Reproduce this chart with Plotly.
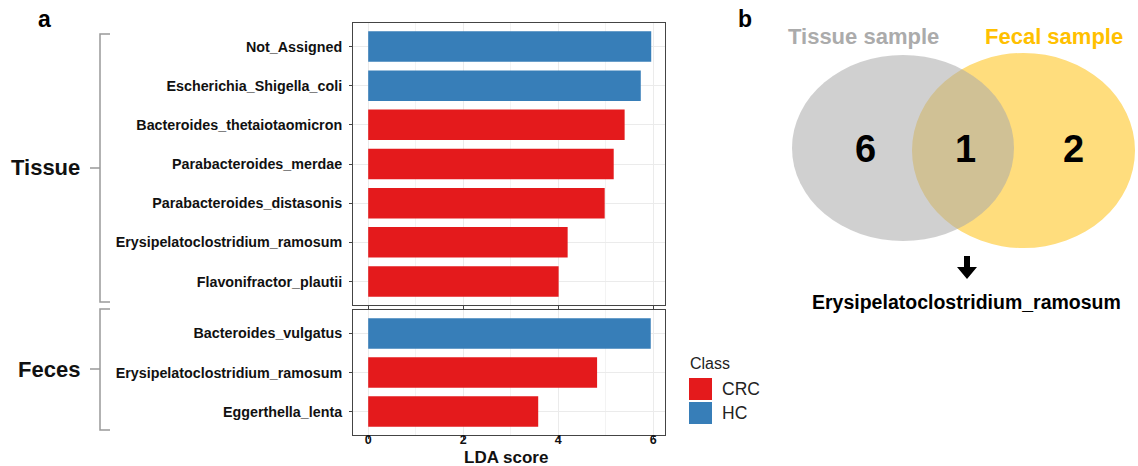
import plotly.graph_objects as go

# ---------------- data ----------------
tissue_taxa = ["Not_Assigned", "Escherichia_Shigella_coli", "Bacteroides_thetaiotaomicron",
               "Parabacteroides_merdae", "Parabacteroides_distasonis",
               "Erysipelatoclostridium_ramosum", "Flavonifractor_plautii"]
tissue_lda = [5.96, 5.74, 5.40, 5.17, 4.98, 4.20, 4.01]
tissue_class = ["HC", "HC", "CRC", "CRC", "CRC", "CRC", "CRC"]

feces_taxa = ["Bacteroides_vulgatus", "Erysipelatoclostridium_ramosum", "Eggerthella_lenta"]
feces_lda = [5.95, 4.82, 3.58]
feces_class = ["HC", "CRC", "CRC"]

x_ticks = [0, 2, 4, 6]
class_names = ["CRC", "HC"]
class_colors = {"CRC": "#E41A1C", "HC": "#377EB8"}

venn_sets = ["Tissue sample", "Fecal sample"]
venn_counts = [6, 1, 2]   # tissue only, shared, fecal only
shared_taxon = "Erysipelatoclostridium_ramosum"

# ---------------- layout helpers ----------------
W, H = 1138, 466
FONT = "Liberation Sans, Arial, sans-serif"


def fx(x):
    return x / W


def fy(y):
    return 1 - y / H


fig = go.Figure()

fig.add_trace(go.Bar(orientation="h", y=tissue_taxa, x=tissue_lda,
                     marker=dict(color=[class_colors[c] for c in tissue_class], line=dict(width=0)),
                     width=0.78, xaxis="x", yaxis="y", showlegend=False, hoverinfo="x+y"))
fig.add_trace(go.Bar(orientation="h", y=feces_taxa, x=feces_lda,
                     marker=dict(color=[class_colors[c] for c in feces_class], line=dict(width=0)),
                     width=0.78, xaxis="x2", yaxis="y2", showlegend=False, hoverinfo="x+y"))

xr = [-0.32, 6.25]
common_x = dict(range=xr, tickvals=x_ticks, showgrid=True, gridcolor="#EBEBEB", gridwidth=1,
                minor=dict(dtick=1, tick0=1, showgrid=True, gridcolor="#F3F3F3", gridwidth=0.6, ticks=""),
                zeroline=False, showline=True, mirror=True, linecolor="#444", linewidth=1,
                ticks="outside", ticklen=3, tickcolor="#444", tickwidth=1,
                tickfont=dict(family=FONT, size=12.5, color="#111", weight="bold"))
common_y = dict(type="category", showgrid=True, gridcolor="#EBEBEB", gridwidth=1, zeroline=False,
                showline=True, mirror=True, linecolor="#444", linewidth=1,
                ticks="outside", ticklen=3, tickcolor="#444", tickwidth=1, ticklabelstandoff=4,
                tickfont=dict(family=FONT, size=14.3, color="#111", weight="bold"))

fig.update_layout(
    width=W, height=H, margin=dict(l=0, r=0, t=0, b=0),
    paper_bgcolor="white", plot_bgcolor="white", bargap=0.2,
    xaxis=dict(domain=[fx(353), fx(665)], anchor="y", showticklabels=False, **common_x),
    yaxis=dict(domain=[fy(305), fy(23)], anchor="x", categoryorder="array",
               categoryarray=tissue_taxa, range=[len(tissue_taxa) - 0.4, -0.6], **common_y),
    xaxis2=dict(domain=[fx(353), fx(665)], anchor="y2", showticklabels=True,
                ticklabelstandoff=-10, **common_x),
    yaxis2=dict(domain=[fy(435), fy(310)], anchor="x2", categoryorder="array",
                categoryarray=feces_taxa, range=[len(feces_taxa) - 0.4, -0.6], **common_y),
)

ann = []
shapes = []

# panel letters
ann.append(dict(text="a", x=fx(44), y=fy(19), font=dict(family=FONT, size=23, color="black", weight="bold")))
ann.append(dict(text="b", x=fx(745), y=fy(19), font=dict(family=FONT, size=23, color="black", weight="bold")))

# x axis title
ann.append(dict(text="LDA score", x=fx(506), y=fy(457), font=dict(family=FONT, size=17, color="#111", weight="bold")))

# group labels and brackets
groups = [("Tissue", 34, 302, 168), ("Feces", 309, 430, 369)]
for name, top, bot, mid in groups:
    ann.append(dict(text=name, x=fx(82), y=fy(mid), xanchor="right",
                    font=dict(family=FONT, size=22, color="#111", weight="bold")))
    path = (f"M {fx(110)},{fy(top)} L {fx(100)},{fy(top)} L {fx(100)},{fy(bot)} L {fx(110)},{fy(bot)} "
            f"M {fx(100)},{fy(mid)} L {fx(90)},{fy(mid)}")
    shapes.append(dict(type="path", path=path, xref="paper", yref="paper",
                       line=dict(color="#999999", width=1.5)))

# manual legend
ann.append(dict(text="Class", x=fx(688), y=fy(363), xanchor="left",
                font=dict(family=FONT, size=16, color="#222")))
for i, c in enumerate(class_names):
    y0 = 378 + i * 24
    shapes.append(dict(type="rect", xref="paper", yref="paper", x0=fx(689), x1=fx(712),
                       y0=fy(y0 + 22), y1=fy(y0), fillcolor=class_colors[c], line=dict(width=0)))
    ann.append(dict(text=c, x=fx(720), y=fy(y0 + 11), xanchor="left",
                    font=dict(family=FONT, size=17.5, color="#222")))

# Venn diagram
shapes.append(dict(type="circle", xref="paper", yref="paper", x0=fx(912), x1=fx(1135),
                   y0=fy(248), y1=fy(53), fillcolor="rgb(255,221,125)", line=dict(width=0)))
shapes.append(dict(type="circle", xref="paper", yref="paper", x0=fx(792), x1=fx(1014),
                   y0=fy(241), y1=fy(55), fillcolor="rgb(170,170,170)", opacity=0.55,
                   line=dict(width=0)))
ann.append(dict(text=venn_sets[0], x=fx(863), y=fy(37),
                font=dict(family=FONT, size=22, color="#ABABAB", weight="bold")))
ann.append(dict(text=venn_sets[1], x=fx(1054), y=fy(37),
                font=dict(family=FONT, size=22, color="#FFC000", weight="bold")))
for val, xc in zip(venn_counts, [866, 965, 1073]):
    ann.append(dict(text=str(val), x=fx(xc), y=fy(149),
                    font=dict(family=FONT, size=38, color="black", weight="bold")))

# arrow
arrow = (f"M {fx(964)},{fy(256)} L {fx(970)},{fy(256)} L {fx(970)},{fy(267)} L {fx(977)},{fy(267)} "
         f"L {fx(967)},{fy(279)} L {fx(957)},{fy(267)} L {fx(964)},{fy(267)} Z")
shapes.append(dict(type="path", path=arrow, xref="paper", yref="paper",
                   fillcolor="black", line=dict(width=0)))
ann.append(dict(text=shared_taxon, x=fx(966), y=fy(302),
                font=dict(family=FONT, size=19.5, color="black", weight="bold")))

for a in ann:
    a.update(xref="paper", yref="paper", showarrow=False)
    a.setdefault("xanchor", "center")
    a.setdefault("yanchor", "middle")

fig.update_layout(annotations=ann, shapes=shapes)
fig.write_html("out.html", config={"displayModeBar": False},
               post_script="document.body.style.margin='0';document.body.style.overflow='hidden';")
